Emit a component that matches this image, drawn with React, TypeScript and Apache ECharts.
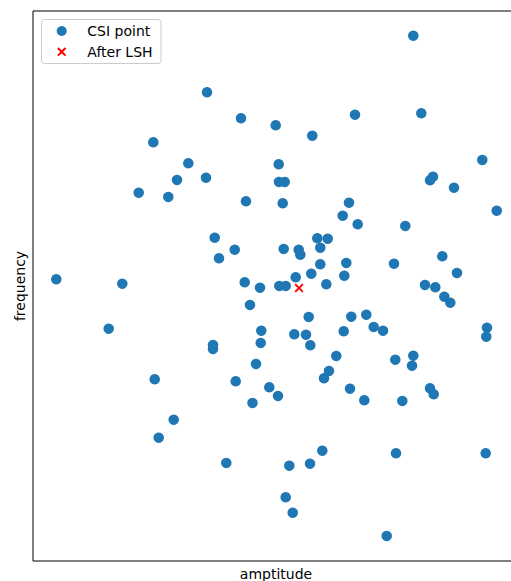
import React, { useEffect, useRef } from "react";
import * as echarts from "echarts";

const csiAmplitude: number[] = [
  380.3, 174, 208, 322, 388.3, 242.7, 279.3, 120.3, 155.3, 245.7,
  449.3, 144, 173, 246, 251.7, 397, 400, 105.7, 135.3, 421,
  213, 249.7, 316, 463.7, 309.7, 324.7, 372.3, 181.7, 284.3, 294.7,
  201.7, 250.7, 265.7, 267.3, 287.3, 186, 313.3, 287.3, 409.3, 361,
  23.3, 89.3, 278.3, 262.7, 311.3, 424, 211.7, 227, 246.3, 252.7,
  293.3, 392, 402.3, 411.3, 417.3, 217, 275.7, 318.3, 333.3, 75.7,
  228.3, 340.7, 350, 310.7, 454, 453.3, 261.3, 273, 227.7, 277.3,
  180, 180, 303.3, 362.3, 380.3, 379, 223, 296, 291, 121.7,
  202.7, 236.3, 245, 317, 397, 400.7, 331.3, 369.3, 219.5, 140.7,
  125.7, 289.3, 363, 452.7, 193.3, 256.3, 277, 252.7, 259.7, 353.7,
];

const csiFrequency: number[] = [
  525.3, 468.7, 442.7, 446.3, 447.7, 435.7, 425.3, 418.7, 397.7, 396.7,
  401, 381, 383.3, 379, 379, 380.7, 384.3, 368.3, 364, 373.3,
  359.7, 357.7, 358.3, 350.3, 345.3, 336.7, 335, 323.3, 322.7, 322.3,
  311.3, 312, 311.3, 306.3, 313.3, 302.7, 298, 296.7, 304.7, 297.3,
  281.7, 277.3, 287.3, 283.7, 285.3, 288, 278.7, 273.3, 275, 275,
  276.7, 276, 273.7, 264.3, 258.3, 256, 244, 244.3, 246.3, 232.3,
  230.3, 234, 230.3, 229.7, 233.3, 224.3, 226.7, 226.3, 218, 215.7,
  216, 212, 205, 201.3, 205.3, 195.3, 197, 190, 182.7, 181.7,
  179.7, 173.7, 165, 172.3, 172.7, 166.7, 160.7, 160, 158, 141.3,
  123.3, 110.3, 107.7, 107.7, 98, 95.3, 97.3, 63.7, 48.3, 25,
];

const lshAmplitude: number[] = [266];
const lshFrequency: number[] = [273];

const seriesNames: string[] = ["CSI point", "After LSH"];
const axisNames = { x: "amptitude", y: "frequency" };

const CSI_COLOR = "#1f77b4";
const LSH_COLOR = "#ff0000";

const X_SYMBOL =
  "path://M0,1.5 L1.5,0 L5,3.5 L8.5,0 L10,1.5 L6.5,5 L10,8.5 L8.5,10 L5,6.5 L1.5,10 L0,8.5 L3.5,5 Z";

export default function App() {
  const ref = useRef<HTMLDivElement>(null);

  useEffect(() => {
    document.body.style.margin = "0";
    if (!ref.current) return;
    const chart = echarts.init(ref.current, undefined, { renderer: "svg" });

    const csiData = csiAmplitude.map((x, i) => [x, csiFrequency[i]]);
    const lshData = lshAmplitude.map((x, i) => [x, lshFrequency[i]]);

    const font = "'DejaVu Sans', sans-serif";
    const legendText = {
      fill: "#000000",
      fontFamily: font,
      fontSize: 14,
      verticalAlign: "middle",
      align: "left",
    };

    chart.setOption({
      animation: false,
      backgroundColor: "#ffffff",
      textStyle: { fontFamily: font },
      grid: {
        left: 33,
        top: 11,
        width: 486,
        height: 550,
        show: true,
        borderColor: "#000000",
        borderWidth: 1,
        backgroundColor: "transparent",
        containLabel: false,
        outerBoundsMode: "none",
      },
      xAxis: {
        type: "value",
        min: 0,
        max: 486,
        name: axisNames.x,
        nameLocation: "middle",
        nameGap: 6,
        nameTextStyle: {
          fontFamily: font,
          fontSize: 14,
          color: "#000000",
          verticalAlign: "top",
        },
        axisLine: { show: false },
        axisTick: { show: false },
        axisLabel: { show: false },
        splitLine: { show: false },
      },
      yAxis: {
        type: "value",
        min: 0,
        max: 550,
        name: axisNames.y,
        nameLocation: "middle",
        nameGap: 6,
        nameRotate: 90,
        nameTextStyle: {
          fontFamily: font,
          fontSize: 14,
          color: "#000000",
          verticalAlign: "bottom",
        },
        axisLine: { show: false },
        axisTick: { show: false },
        axisLabel: { show: false },
        splitLine: { show: false },
      },
      graphic: [
        {
          type: "group",
          left: 41,
          top: 19,
          z: 10,
          children: [
            {
              type: "rect",
              shape: { x: 0.5, y: 0.5, width: 119.5, height: 44, r: 3 },
              style: {
                fill: "rgba(255,255,255,0.8)",
                stroke: "#cccccc",
                lineWidth: 1,
              },
            },
            {
              type: "circle",
              shape: { cx: 20.7, cy: 12, r: 5 },
              style: { fill: CSI_COLOR },
            },
            {
              type: "line",
              shape: { x1: 16.9, y1: 29, x2: 24.5, y2: 36.6 },
              style: { stroke: LSH_COLOR, lineWidth: 2 },
            },
            {
              type: "line",
              shape: { x1: 24.5, y1: 29, x2: 16.9, y2: 36.6 },
              style: { stroke: LSH_COLOR, lineWidth: 2 },
            },
            {
              type: "text",
              x: 46.3,
              y: 12,
              style: { ...legendText, text: seriesNames[0] },
            },
            {
              type: "text",
              x: 46.3,
              y: 32.7,
              style: { ...legendText, text: seriesNames[1] },
            },
          ],
        },
      ],
      series: [
        {
          name: seriesNames[0],
          type: "scatter",
          data: csiData,
          symbol: "circle",
          symbolSize: 10.5,
          itemStyle: { color: CSI_COLOR, opacity: 1 },
          emphasis: { disabled: true },
          z: 2,
        },
        {
          name: seriesNames[1],
          type: "scatter",
          data: lshData,
          symbol: X_SYMBOL,
          symbolSize: 9,
          itemStyle: { color: LSH_COLOR, opacity: 1 },
          emphasis: { disabled: true },
          z: 3,
        },
      ],
    });

    return () => {
      chart.dispose();
    };
  }, []);

  return (
    <div
      ref={ref}
      style={{ width: 511, height: 581, position: "absolute", left: 0, top: 0 }}
    />
  );
}
